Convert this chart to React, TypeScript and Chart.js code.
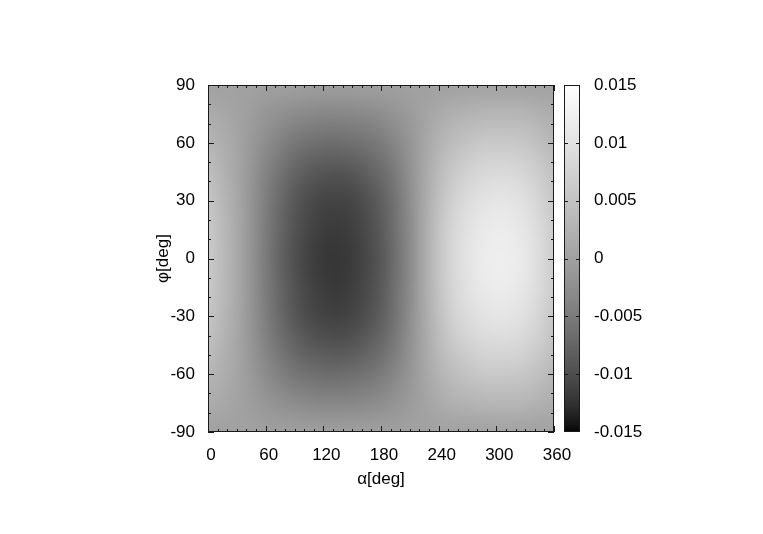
import React, { useEffect, useRef } from "react";
import { Chart, registerables } from "chart.js";

Chart.register(...registerables);

// ---- data -------------------------------------------------------------
const ALPHA = [0, 15, 30, 45, 60, 75, 90, 105, 120, 135, 150, 165, 180, 195, 210, 225, 240, 255, 270, 285, 300, 315, 330, 345, 360];
const PHI = [90, 75, 60, 45, 30, 15, 0, -15, -30, -45, -60, -75, -90];

const X_TICKS = [0, 60, 120, 180, 240, 300, 360];
const Y_TICKS = [-90, -60, -30, 0, 30, 60, 90];
const CB_TICKS = [-0.015, -0.01, -0.005, 0, 0.005, 0.01, 0.015];
const CB_MIN = -0.015;
const CB_MAX = 0.015;

const ROW_P90 = [0.0001, 0.0001, 0, 0, -0.0001, -0.0001, -0.0001, -0.0002, -0.0002, -0.0002, -0.0002, -0.0001, -0.0001, -0.0001, 0, 0, 0.0001, 0.0001, 0.0001, 0.0002, 0.0002, 0.0002, 0.0001, 0.0001, 0.0001];
const ROW_P75 = [0.0016, 0.0010, 0.0003, -0.0005, -0.0014, -0.0022, -0.0028, -0.0032, -0.0034, -0.0034, -0.0033, -0.0030, -0.0025, -0.0018, -0.0008, 0.0003, 0.0014, 0.0022, 0.0027, 0.0030, 0.0031, 0.0031, 0.0029, 0.0023, 0.0017];
const ROW_P60 = [0.0031, 0.0019, 0.0006, -0.0011, -0.0027, -0.0042, -0.0054, -0.0061, -0.0065, -0.0066, -0.0063, -0.0058, -0.0049, -0.0035, -0.0016, 0.0006, 0.0026, 0.0041, 0.0051, 0.0058, 0.0060, 0.0059, 0.0055, 0.0045, 0.0033];
const ROW_P45 = [0.0044, 0.0027, 0.0008, -0.0014, -0.0039, -0.0059, -0.0075, -0.0086, -0.0091, -0.0093, -0.0090, -0.0081, -0.0069, -0.0049, -0.0022, 0.0008, 0.0037, 0.0059, 0.0073, 0.0082, 0.0086, 0.0085, 0.0078, 0.0064, 0.0047];
const ROW_P30 = [0.0054, 0.0033, 0.0010, -0.0018, -0.0046, -0.0070, -0.0089, -0.0102, -0.0109, -0.0110, -0.0107, -0.0097, -0.0082, -0.0059, -0.0027, 0.0010, 0.0045, 0.0072, 0.0090, 0.0101, 0.0105, 0.0104, 0.0096, 0.0078, 0.0057];
const ROW_P15 = [0.0060, 0.0037, 0.0012, -0.0018, -0.0048, -0.0074, -0.0094, -0.0107, -0.0115, -0.0117, -0.0113, -0.0102, -0.0087, -0.0062, -0.0029, 0.0012, 0.0050, 0.0080, 0.0099, 0.0112, 0.0117, 0.0115, 0.0106, 0.0087, 0.0064];
const ROW_0 = [0.0062, 0.0038, 0.0012, -0.0019, -0.0050, -0.0077, -0.0097, -0.0111, -0.0119, -0.0121, -0.0117, -0.0106, -0.0090, -0.0064, -0.0030, 0.0012, 0.0052, 0.0083, 0.0103, 0.0116, 0.0121, 0.0119, 0.0110, 0.0090, 0.0066];
const ROW_M15 = [0.0060, 0.0037, 0.0012, -0.0018, -0.0048, -0.0074, -0.0094, -0.0108, -0.0116, -0.0118, -0.0114, -0.0103, -0.0088, -0.0062, -0.0029, 0.0012, 0.0050, 0.0080, 0.0099, 0.0112, 0.0117, 0.0115, 0.0106, 0.0087, 0.0064];
const ROW_M30 = [0.0054, 0.0033, 0.0010, -0.0018, -0.0046, -0.0071, -0.0090, -0.0103, -0.0110, -0.0111, -0.0108, -0.0098, -0.0083, -0.0059, -0.0027, 0.0010, 0.0045, 0.0072, 0.0090, 0.0101, 0.0105, 0.0104, 0.0096, 0.0078, 0.0057];
const ROW_M45 = [0.0044, 0.0027, 0.0008, -0.0015, -0.0040, -0.0060, -0.0076, -0.0087, -0.0092, -0.0094, -0.0091, -0.0082, -0.0070, -0.0050, -0.0022, 0.0008, 0.0037, 0.0059, 0.0073, 0.0082, 0.0086, 0.0085, 0.0078, 0.0064, 0.0047];
const ROW_M60 = [0.0031, 0.0019, 0.0006, -0.0011, -0.0028, -0.0043, -0.0055, -0.0062, -0.0066, -0.0067, -0.0064, -0.0059, -0.0050, -0.0035, -0.0016, 0.0006, 0.0026, 0.0041, 0.0051, 0.0058, 0.0060, 0.0059, 0.0055, 0.0045, 0.0033];
const ROW_M75 = [0.0016, 0.0010, 0.0003, -0.0005, -0.0014, -0.0022, -0.0028, -0.0032, -0.0034, -0.0035, -0.0033, -0.0030, -0.0025, -0.0018, -0.0008, 0.0003, 0.0014, 0.0022, 0.0027, 0.0030, 0.0031, 0.0031, 0.0029, 0.0023, 0.0017];
const ROW_M90 = [0.0001, 0.0001, 0, 0, -0.0001, -0.0001, -0.0001, -0.0002, -0.0002, -0.0002, -0.0002, -0.0001, -0.0001, -0.0001, 0, 0, 0.0001, 0.0001, 0.0001, 0.0002, 0.0002, 0.0002, 0.0001, 0.0001, 0.0001];

const FIELD = [ROW_P90, ROW_P75, ROW_P60, ROW_P45, ROW_P30, ROW_P15, ROW_0, ROW_M15, ROW_M30, ROW_M45, ROW_M60, ROW_M75, ROW_M90];

// ---- styling ----------------------------------------------------------
const FONT_FAMILY = "'Liberation Sans', Arial, Helvetica, sans-serif";
const FONT = { family: FONT_FAMILY, size: 17 };
const INK = "#1a1a1a";

// gnuplot "set palette gray" (gamma 1.5)
function grayLevel(v: number): number {
  const f = Math.min(1, Math.max(0, (v - CB_MIN) / (CB_MAX - CB_MIN)));
  return Math.round(255 * Math.pow(f, 1 / 1.5));
}

const heatmapPlugin = {
  id: "heatmap",
  beforeDatasetsDraw(chart: any) {
    const { ctx, scales } = chart;
    const xs = scales.x;
    const ys = scales.y;
    const nx = ALPHA.length;
    const ny = PHI.length;
    const off = document.createElement("canvas");
    off.width = nx;
    off.height = ny;
    const octx = off.getContext("2d")!;
    const img = octx.createImageData(nx, ny);
    for (let j = 0; j < ny; j++) {
      for (let i = 0; i < nx; i++) {
        const g = grayLevel(FIELD[j][i]);
        const k = (j * nx + i) * 4;
        img.data[k] = g;
        img.data[k + 1] = g;
        img.data[k + 2] = g;
        img.data[k + 3] = 255;
      }
    }
    octx.putImageData(img, 0, 0);
    const left = xs.getPixelForValue(ALPHA[0]);
    const right = xs.getPixelForValue(ALPHA[nx - 1]);
    const top = ys.getPixelForValue(PHI[0]);
    const bottom = ys.getPixelForValue(PHI[ny - 1]);
    ctx.save();
    ctx.beginPath();
    ctx.rect(left, top, right - left, bottom - top);
    ctx.clip();
    ctx.imageSmoothingEnabled = true;
    (ctx as any).imageSmoothingQuality = "high";
    ctx.drawImage(off, 0.5, 0.5, nx - 1, ny - 1, left, top, right - left, bottom - top);
    ctx.restore();
  },
  afterDatasetsDraw(chart: any) {
    const { ctx, chartArea, scales } = chart;
    const xs = scales.x;
    const ys = scales.y;
    const cb = scales.cb;
    const { left, right, top, bottom } = chartArea;
    ctx.save();
    ctx.strokeStyle = INK;
    ctx.lineWidth = 1;

    // ticks (inward, mirrored)
    ctx.beginPath();
    for (let a = 0; a <= 360; a += 10) {
      const px = Math.round(xs.getPixelForValue(a)) + 0.5;
      const len = a % 60 === 0 ? 6 : 3;
      ctx.moveTo(px, bottom);
      ctx.lineTo(px, bottom - len);
      ctx.moveTo(px, top);
      ctx.lineTo(px, top + len);
    }
    for (let p = -90; p <= 90; p += 10) {
      const py = Math.round(ys.getPixelForValue(p)) + 0.5;
      const len = p % 30 === 0 ? 6 : 3;
      ctx.moveTo(left, py);
      ctx.lineTo(left + len, py);
      ctx.moveTo(right, py);
      ctx.lineTo(right - len, py);
    }
    ctx.stroke();

    // plot border
    ctx.strokeRect(Math.round(left) + 0.5, Math.round(top) + 0.5, Math.round(right - left) - 1, Math.round(bottom - top) - 1);

    // colour box
    const cbLeft = Math.round(right) + 10;
    const cbWidth = 16;
    const cbTop = Math.round(cb.getPixelForValue(CB_MAX));
    const cbBottom = Math.round(cb.getPixelForValue(CB_MIN));
    for (let py = cbTop; py < cbBottom; py++) {
      const v = cb.getValueForPixel(py + 0.5);
      const g = grayLevel(v);
      ctx.fillStyle = `rgb(${g},${g},${g})`;
      ctx.fillRect(cbLeft, py, cbWidth, 1);
    }
    ctx.beginPath();
    for (const t of CB_TICKS) {
      if (t === CB_MIN || t === CB_MAX) continue;
      const py = Math.round(cb.getPixelForValue(t)) + 0.5;
      ctx.moveTo(cbLeft, py);
      ctx.lineTo(cbLeft + 4, py);
      ctx.moveTo(cbLeft + cbWidth, py);
      ctx.lineTo(cbLeft + cbWidth - 4, py);
    }
    ctx.stroke();
    ctx.strokeRect(cbLeft + 0.5, cbTop + 0.5, cbWidth - 1, cbBottom - cbTop - 1);
    ctx.restore();
  },
};

export default function App() {
  const ref = useRef<HTMLCanvasElement | null>(null);

  useEffect(() => {
    if (!ref.current) return;
    const chart = new Chart(ref.current, {
      type: "scatter",
      data: { datasets: [{ data: [], pointRadius: 0 }] },
      plugins: [heatmapPlugin],
      options: {
        animation: false,
        responsive: false,
        events: [],
        layout: { padding: { top: 85, left: 0, right: 0, bottom: 0 } },
        plugins: { legend: { display: false }, tooltip: { enabled: false } },
        scales: {
          x: {
            type: "linear",
            position: "bottom",
            min: 0,
            max: 360,
            afterBuildTicks: (s: any) => {
              s.ticks = X_TICKS.map((v) => ({ value: v }));
            },
            afterFit: (s: any) => {
              s.height = 102;
            },
            ticks: { font: FONT, color: "#000", padding: 13, labelOffset: 3, maxRotation: 0, autoSkip: false, callback: (v: any) => String(v) },
            grid: { display: false, drawTicks: false },
            border: { display: false },
            title: { display: true, text: "α[deg]", font: FONT, color: "#000", padding: { top: 0, bottom: 44 } },
          },
          y: {
            type: "linear",
            position: "left",
            min: -90,
            max: 90,
            afterBuildTicks: (s: any) => {
              s.ticks = Y_TICKS.map((v) => ({ value: v }));
            },
            afterFit: (s: any) => {
              s.width = 208;
            },
            ticks: { font: FONT, color: "#000", padding: 13, autoSkip: false, callback: (v: any) => String(v) },
            grid: { display: false, drawTicks: false },
            border: { display: false },
            title: { display: true, text: "φ[deg]", font: FONT, color: "#000", padding: { top: 153, bottom: 0 } },
          },
          cb: {
            type: "linear",
            axis: "y",
            position: "right",
            min: CB_MIN,
            max: CB_MAX,
            afterBuildTicks: (s: any) => {
              s.ticks = CB_TICKS.map((v) => ({ value: v }));
            },
            afterFit: (s: any) => {
              s.width = 209;
            },
            ticks: { font: FONT, color: "#000", padding: 40, autoSkip: false, callback: (v: any) => String(v) },
            grid: { display: false, drawTicks: false },
            border: { display: false },
          },
        },
      } as any,
    });
    return () => chart.destroy();
  }, []);

  return (
    <div style={{ position: "absolute", left: 0, top: 0, width: 763, height: 534, background: "#fff" }}>
      <canvas ref={ref} width={763} height={534} style={{ display: "block" }} />
    </div>
  );
}
